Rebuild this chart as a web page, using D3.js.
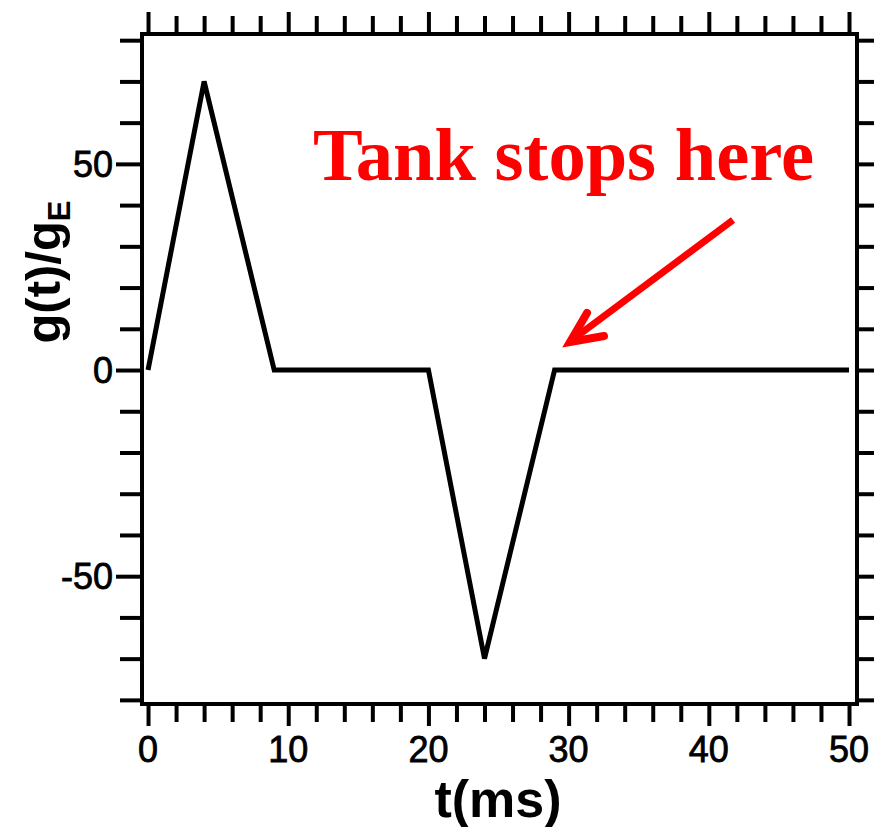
<!DOCTYPE html>
<html>
<head>
<meta charset="utf-8">
<script src="https://cdn.jsdelivr.net/npm/d3@7"></script>
<style>
  html, body { margin: 0; padding: 0; background: #fff; }
  svg { display: block; }
</style>
</head>
<body>
<svg id="chart" width="874" height="827"></svg>
<script>
// ---- data ----
const timeMs = [0, 4, 9, 20, 24, 29, 50];
const gRatio = [0, 70, 0, 0, -70, 0, 0];
const xTickValues = [0, 2, 4, 6, 8, 10, 12, 14, 16, 18, 20, 22, 24, 26, 28, 30, 32, 34, 36, 38, 40, 42, 44, 46, 48, 50];
const xTickLabels = [0, 10, 20, 30, 40, 50];
const yTickValues = [-80, -70, -60, -50, -40, -30, -20, -10, 0, 10, 20, 30, 40, 50, 60, 70, 80];
const yTickLabels = [-50, 0, 50];
const annotationText = "Tank stops here";
const xTitle = "t(ms)";

// ---- layout ----
const svg = d3.select("#chart");
const L = 142, R = 857, T = 34, B = 704;
const x = d3.scaleLinear().domain([-0.43, 50.57]).range([L, R]);
const y = d3.scaleLinear().domain([-81, 81.5]).range([B, T]);

const tickFont = "'Liberation Sans', Arial, Helvetica, sans-serif";

function styleTicks(g, isMajor, majorLen, minorLen, dir) {
  g.select(".domain").remove();
  g.selectAll(".tick line")
    .attr("stroke", "#000")
    .attr("stroke-width", 4)
    .each(function(d) {
      const len = isMajor(d) ? majorLen : minorLen;
      const sel = d3.select(this);
      if (dir === "x") sel.attr("y2", sel.attr("y2") < 0 ? -len : len);
      else sel.attr("x2", sel.attr("x2") < 0 ? -len : len);
    });
  g.selectAll(".tick text").remove();
}

const isXMajor = d => d % 10 === 0;
const isYMajor = d => d % 50 === 0;

// top axis ticks
svg.append("g").attr("transform", `translate(0,${T})`)
  .call(d3.axisTop(x).tickValues(xTickValues).tickSizeOuter(0))
  .call(g => styleTicks(g, isXMajor, 22, 18, "x"));

// bottom axis ticks
svg.append("g").attr("transform", `translate(0,${B})`)
  .call(d3.axisBottom(x).tickValues(xTickValues).tickSizeOuter(0))
  .call(g => styleTicks(g, isXMajor, 22, 18, "x"));

// left axis ticks
svg.append("g").attr("transform", `translate(${L},0)`)
  .call(d3.axisLeft(y).tickValues(yTickValues).tickSizeOuter(0))
  .call(g => styleTicks(g, isYMajor, 26, 22, "y"));

// right axis ticks
svg.append("g").attr("transform", `translate(${R},0)`)
  .call(d3.axisRight(y).tickValues(yTickValues).tickSizeOuter(0))
  .call(g => styleTicks(g, isYMajor, 22, 22, "y"));

// frame
svg.append("rect")
  .attr("x", L).attr("y", T)
  .attr("width", R - L).attr("height", B - T)
  .attr("fill", "none").attr("stroke", "#000").attr("stroke-width", 4);

// tick labels
svg.append("g").selectAll("text").data(xTickLabels).join("text")
  .attr("x", d => x(d))
  .attr("y", 762)
  .attr("text-anchor", "middle")
  .attr("font-family", tickFont)
  .attr("font-size", 36)
  .attr("fill", "#000")
  .attr("stroke", "#000").attr("stroke-width", 0.8)
  .text(d => d);

svg.append("g").selectAll("text").data(yTickLabels).join("text")
  .attr("x", 113)
  .attr("y", d => y(d) + 13)
  .attr("text-anchor", "end")
  .attr("font-family", tickFont)
  .attr("font-size", 36)
  .attr("fill", "#000")
  .attr("stroke", "#000").attr("stroke-width", 0.8)
  .text(d => d);

// data line
const pts = timeMs.map((t, i) => [t, gRatio[i]]);
svg.append("path")
  .datum(pts)
  .attr("d", d3.line().x(d => x(d[0])).y(d => y(d[1])))
  .attr("fill", "none")
  .attr("stroke", "#000")
  .attr("stroke-width", 5)
  .attr("stroke-linejoin", "miter");

// axis titles
svg.append("text")
  .attr("x", 498).attr("y", 817)
  .attr("text-anchor", "middle")
  .attr("font-family", tickFont)
  .attr("font-weight", "bold")
  .attr("font-size", 52)
  .attr("fill", "#000")
  .text(xTitle);

const yt = svg.append("text")
  .attr("transform", "translate(60,272) rotate(-90)")
  .attr("text-anchor", "middle")
  .attr("font-family", tickFont)
  .attr("font-weight", "bold")
  .attr("font-size", 49)
  .attr("fill", "#000");
yt.append("tspan").text("g(t)/g");
yt.append("tspan").attr("font-size", 31).attr("dy", 10).text("E");

// annotation
svg.append("text")
  .attr("x", 313).attr("y", 180)
  .attr("font-family", "'Liberation Serif', 'Times New Roman', serif")
  .attr("font-weight", "bold")
  .attr("font-size", 74.5)
  .attr("fill", "#ff0000")
  .text(annotationText);

// arrow pointing at the point where the tank stops
const tipX = 570, tipY = 342;
svg.append("line")
  .attr("x1", 733).attr("y1", 220)
  .attr("x2", tipX + 6).attr("y2", tipY - 5)
  .attr("stroke", "#ff0000").attr("stroke-width", 7);
svg.append("path")
  .attr("d", `M587,313 L${tipX},${tipY} L604,336`)
  .attr("fill", "none")
  .attr("stroke", "#ff0000").attr("stroke-width", 8)
  .attr("stroke-linecap", "round")
  .attr("stroke-linejoin", "miter");
</script>
</body>
</html>
